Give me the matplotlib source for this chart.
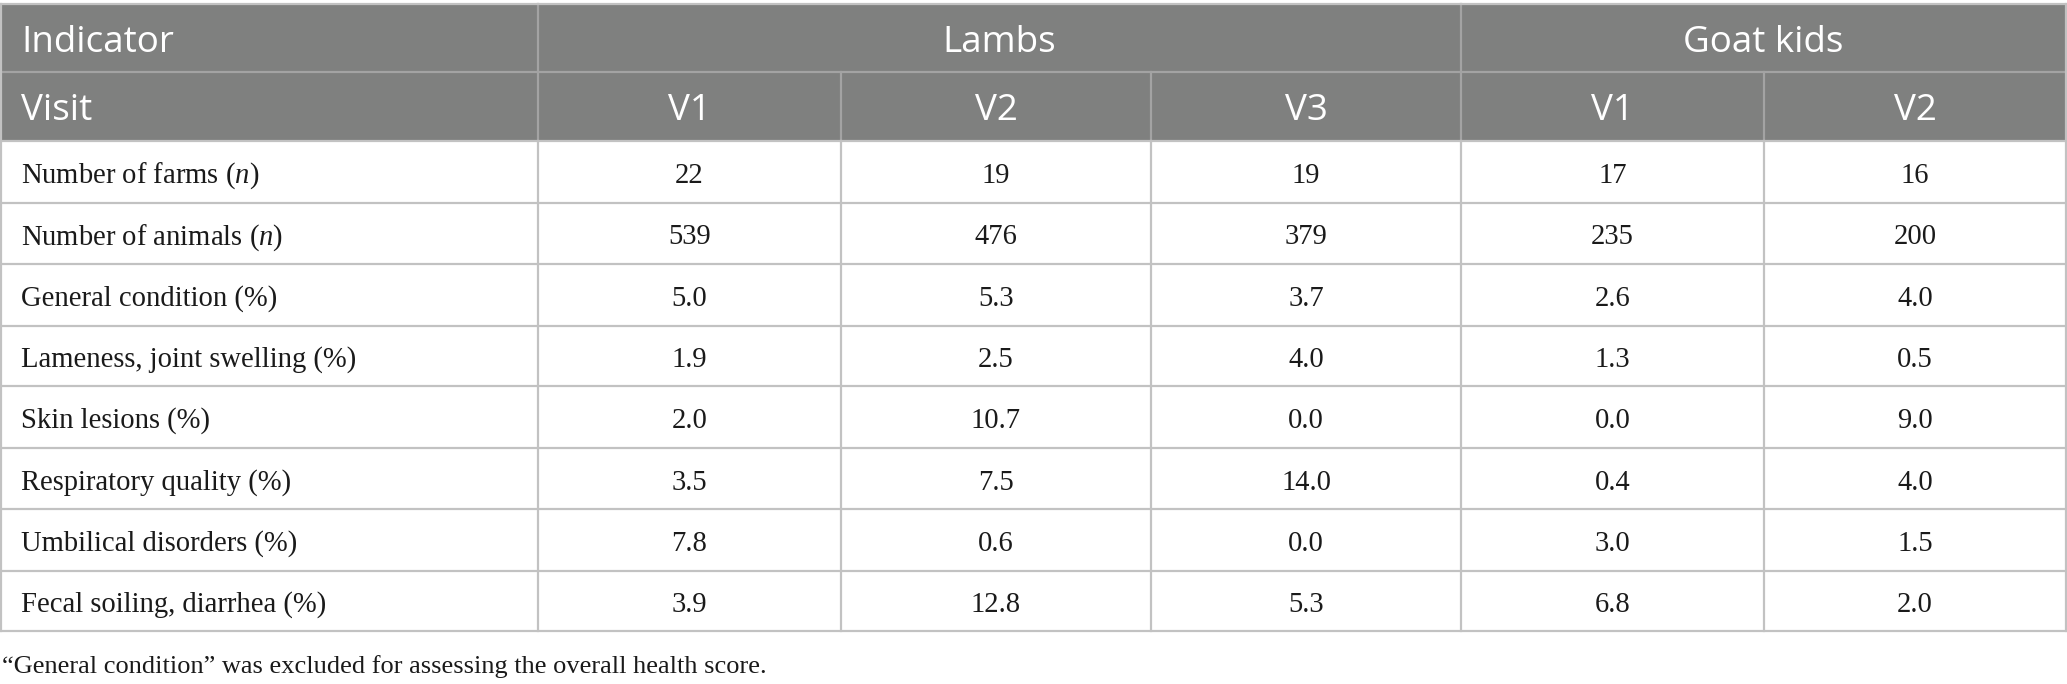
import matplotlib
matplotlib.use("Agg")
import matplotlib.pyplot as plt
from matplotlib.patches import Rectangle

plt.rcParams['mathtext.fontset'] = 'custom'
plt.rcParams['mathtext.rm'] = 'Liberation Serif'
plt.rcParams['mathtext.it'] = 'Liberation Serif:italic'

# table content
groups = ["Lambs", "Goat kids"]
group_span = [3, 2]
visits = ["V1", "V2", "V3", "V1", "V2"]
indicators = ["Number of farms ($n$)", "Number of animals ($n$)", "General condition (%)",
              "Lameness, joint swelling (%)", "Skin lesions (%)", "Respiratory quality (%)",
              "Umbilical disorders (%)", "Fecal soiling, diarrhea (%)"]
values = [
    ["22", "19", "19", "17", "16"],
    ["539", "476", "379", "235", "200"],
    ["5.0", "5.3", "3.7", "2.6", "4.0"],
    ["1.9", "2.5", "4.0", "1.3", "0.5"],
    ["2.0", "10.7", "0.0", "0.0", "9.0"],
    ["3.5", "7.5", "14.0", "0.4", "4.0"],
    ["7.8", "0.6", "0.0", "3.0", "1.5"],
    ["3.9", "12.8", "5.3", "6.8", "2.0"],
]
footnote = "\u201cGeneral condition\u201d was excluded for assessing the overall health score."

# layout in pixels
W, H = 2067, 684
col_x = [1, 538, 841, 1151, 1461, 1764, 2066]
row_y = [4, 72, 141, 203, 264, 326, 386, 448, 509, 571, 631]
head_bg = "#7f807f"
head_line = "#a3a3a3"
body_line = "#c2c2c2"
txt = "#1a1a1a"
h_off = 5   # text baseline nudge
b_off = 4

fig = plt.figure(figsize=(W / 100, H / 100), dpi=100)
ax = fig.add_axes([0, 0, 1, 1])
ax.set_xlim(0, W)
ax.set_ylim(H, 0)
ax.axis("off")

# header background
ax.add_patch(Rectangle((col_x[0], row_y[0]), col_x[-1] - col_x[0], row_y[2] - row_y[0],
                       facecolor=head_bg, edgecolor="none", zorder=1))

hfont = dict(family="Open Sans", fontsize=26.5, color="white", va="center")
bfont = dict(family="Liberation Serif", fontsize=20.6, color=txt, va="center")

# header row 1
ax.text(col_x[0] + 20, (row_y[0] + row_y[1]) / 2 + h_off, "Indicator", ha="left", **hfont)
c = 1
for g, span in zip(groups, group_span):
    x0, x1 = col_x[c], col_x[c + span]
    ax.text((x0 + x1) / 2, (row_y[0] + row_y[1]) / 2 + h_off, g, ha="center", **hfont)
    ax.plot([x0, x0], [row_y[0], row_y[1]], color=head_line, lw=1.6, zorder=2)
    c += span

# header row 2
ax.text(col_x[0] + 20, (row_y[1] + row_y[2]) / 2 + h_off, "Visit", ha="left", **hfont)
for j, v in enumerate(visits):
    ax.text((col_x[j + 1] + col_x[j + 2]) / 2, (row_y[1] + row_y[2]) / 2 + h_off, v,
            ha="center", **hfont)
for x in col_x[1:-1]:
    ax.plot([x, x], [row_y[1], row_y[2]], color=head_line, lw=1.6, zorder=2)
ax.plot([col_x[0], col_x[-1]], [row_y[1], row_y[1]], color=head_line, lw=1.6, zorder=2)

# body
for i, (name, row) in enumerate(zip(indicators, values)):
    yc = (row_y[i + 2] + row_y[i + 3]) / 2 + b_off
    ax.text(col_x[0] + 20, yc, name, ha="left", **bfont)
    for j, v in enumerate(row):
        ax.text((col_x[j + 1] + col_x[j + 2]) / 2, yc, v, ha="center", **bfont)

for y in row_y[2:]:
    ax.plot([col_x[0], col_x[-1]], [y, y], color=body_line, lw=1.6, zorder=2)
for x in col_x:
    ax.plot([x, x], [row_y[2], row_y[-1]], color=body_line, lw=1.6, zorder=2)
ax.plot([col_x[0], col_x[-1]], [row_y[0], row_y[0]], color=body_line, lw=1.6, zorder=2)
for x in (col_x[0], col_x[-1]):
    ax.plot([x, x], [row_y[0], row_y[2]], color=body_line, lw=1.6, zorder=2)

ax.text(2, 667, footnote, ha="left", va="center", family="Liberation Serif", fontsize=19, color=txt)

fig.savefig("out.png", dpi=100)
